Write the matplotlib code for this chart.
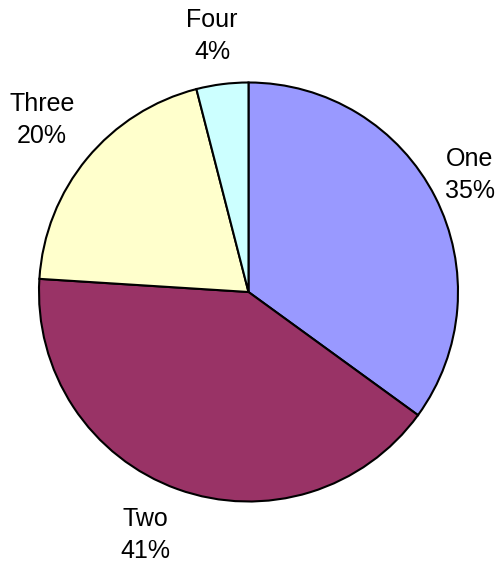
import matplotlib.pyplot as plt

plt.rcParams['font.family'] = ['Liberation Sans', 'DejaVu Sans']

names = ['One', 'Two', 'Three', 'Four']
shares = [35, 41, 20, 4]
colors = ['#9999FF', '#993366', '#FFFFCC', '#CCFFFF']

# label centres relative to the pie centre, in units of the radius
label_xy = [(1.057, 0.558), (-0.494, -1.160), (-0.986, 0.821), (-0.174, 1.222)]

fig = plt.figure(figsize=(5.01, 5.63), dpi=100)
ax = fig.add_axes([0, 0, 1, 1])

cx, cy, r = 248.5, 271.0, 209.5
wedges, _ = ax.pie(shares, colors=colors, startangle=90, counterclock=False,
                   center=(cx, cy), radius=r,
                   wedgeprops=dict(edgecolor='black', linewidth=1.5))

for name, v, (lx, ly) in zip(names, shares, label_xy):
    ax.text(cx + lx * r, cy + ly * r, '%s\n%d%%' % (name, v),
            ha='center', va='center', fontsize=18, linespacing=1.4)

ax.set_xlim(0, 501)
ax.set_ylim(0, 563)
ax.set_aspect('equal')
ax.axis('off')

plt.savefig('out.png', dpi=100)
